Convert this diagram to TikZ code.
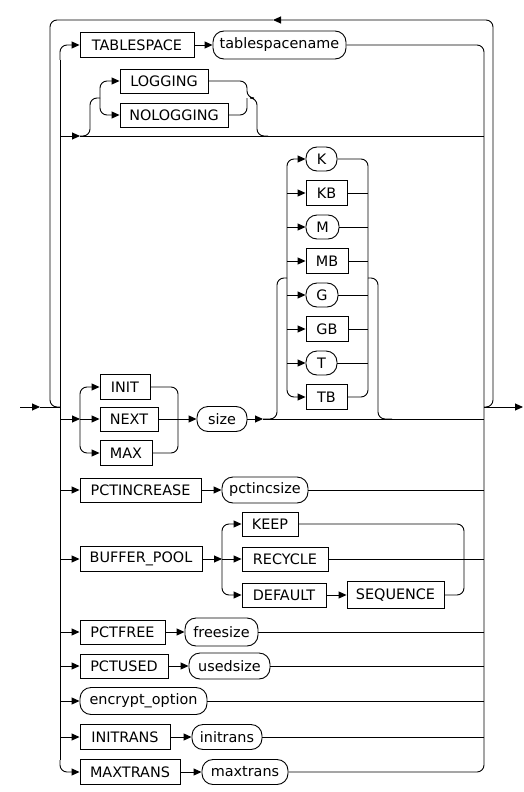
\documentclass[tikz,border=0pt]{standalone}
\usepackage{fontspec}
\setmainfont{DejaVu Sans}
\usetikzlibrary{arrows.meta}
\begin{document}
\begin{tikzpicture}[x=1pt,y=-1pt,line width=0.9pt,
  kw/.style={draw,rectangle,inner sep=0pt,font=\fontsize{14.4}{15}\selectfont,minimum height=24pt},
  tm/.style={draw,rectangle,rounded corners=11pt,inner sep=0pt,font=\fontsize{14.4}{15}\selectfont,minimum height=26pt},
  arr/.style={-{Triangle[length=8pt,width=7pt]}},
  rc/.style={rounded corners=7pt}]
\useasboundingbox (0,0) rectangle (524,792);

% ---------- nodes ----------
\node[kw,minimum width=114pt,minimum height=25pt] (TS) at (137,45) {TABLESPACE};
\node[tm,minimum width=133pt,minimum height=28pt] (TSN) at (279.5,45) {tablespacename};
\node[kw,minimum width=88pt] (LG) at (164,81) {LOGGING};
\node[kw,minimum width=108pt] (NL) at (174,115) {NOLOGGING};

\node[kw,minimum width=50pt,minimum height=25pt] (INIT) at (125,387) {INIT};
\node[kw,minimum width=58pt] (NEXT) at (129,419) {NEXT};
\node[kw,minimum width=52pt,minimum height=25pt] (MAX) at (126,453) {MAX};
\node[tm,minimum width=50pt,minimum height=25pt] (SZ) at (222,419) {size};

\node[tm,minimum width=31pt,minimum height=24pt,rounded corners=11pt] (K) at (321.5,159) {K};
\node[kw,minimum width=41pt,minimum height=25pt] (KB) at (326.5,193) {KB};
\node[tm,minimum width=33pt,minimum height=24pt,rounded corners=11pt] (M) at (322.5,227) {M};
\node[kw,minimum width=42pt,minimum height=25pt] (MB) at (327,261) {MB};
\node[tm,minimum width=32pt,minimum height=24pt,rounded corners=11pt] (G) at (322,295) {G};
\node[kw,minimum width=42pt,minimum height=25pt] (GB) at (327,329) {GB};
\node[tm,minimum width=31pt,minimum height=24pt,rounded corners=11pt] (T) at (321.5,363) {T};
\node[kw,minimum width=41pt,minimum height=25pt] (TB) at (326.5,397) {TB};

\node[kw,minimum width=121pt] (PI) at (140.5,490) {PCTINCREASE};
\node[tm,minimum width=86pt] (PIS) at (265,490) {pctincsize};

\node[kw,minimum width=122pt,minimum height=25pt] (BP) at (141,559) {BUFFER\_POOL};
\node[kw,minimum width=56pt] (KEEP) at (270,524) {KEEP};
\node[kw,minimum width=86pt] (REC) at (285,559) {RECYCLE};
\node[kw,minimum width=84pt] (DEF) at (284,595) {DEFAULT};
\node[kw,minimum width=97pt,minimum height=27pt] (SEQ) at (395.5,595) {SEQUENCE};

\node[kw,minimum width=85pt] (PF) at (122.5,632) {PCTFREE};
\node[tm,minimum width=73pt,minimum height=28pt] (FS) at (221.5,632) {freesize};
\node[kw,minimum width=88pt] (PU) at (124,666) {PCTUSED};
\node[tm,minimum width=81pt] (US) at (229.5,666) {usedsize};
\node[tm,minimum width=127pt,minimum height=27pt] (ENC) at (143.5,701) {encrypt\_option};
\node[kw,minimum width=90pt,minimum height=25pt] (IT) at (125,737) {INITRANS};
\node[tm,minimum width=70pt,minimum height=25pt] (ITS) at (227,737) {initrans};
\node[kw,minimum width=100pt,minimum height=25pt] (MX) at (130,772) {MAXTRANS};
\node[tm,minimum width=86pt,minimum height=25pt] (MXS) at (245,772) {maxtrans};

% ---------- junction coordinates ----------
\coordinate (in0) at (20,407);
\coordinate (in1) at (40,407);
\coordinate (jl) at (60,407);
\coordinate (jr) at (484,407);
\coordinate (out) at (523,407);
\coordinate (loopA) at (273,20);

% ---------- outer loop, entry and exit ----------
\draw[arr] (in0) -- (in1);
\draw (in1) -- (jl);
\draw[arr] (jr) -- (out);
\draw[arr,rc] (jr) -- (493,407) -- (493,20) -- (loopA);
\draw[rc] (loopA) -- (50,20) -- (50,407) -- (jl);

% ---------- main bus ----------
\draw (60,60) -- (60,760);
\draw[arr,rc] (60,60) -- (60,45) -- (TS.west);
\draw[arr] (TS.east) -- (TSN.west);
\draw[rc] (TSN.east) -- (484,45) -- (484,772) -- (MXS.east);
\draw[arr,rc] (60,760) -- (60,772) -- (MX.west);
\draw[arr] (MX.east) -- (MXS.west);

% ---------- LOGGING / NOLOGGING ----------
\draw[arr] (60,136) -- (80,136);
\draw (80,136) -- (484,136);
\draw[rc] (80,136) -- (90,136) -- (90,98) -- (100,98);
\draw[arr,rc] (100,98) -- (100,81) -- (LG.west);
\draw[arr,rc] (100,98) -- (100,115) -- (NL.west);
\draw[rc] (LG.east) -- (247,81) -- (247,98) -- (257,98) -- (257,136) -- (268,136);
\draw[rc] (NL.east) -- (247,115) -- (247,98);

% ---------- INIT / NEXT / MAX size unit ----------
\draw[arr] (60,419) -- (80,419);
\draw[arr,rc] (80,419) -- (80,387) -- (INIT.west);
\draw[arr] (80,419) -- (NEXT.west);
\draw[arr,rc] (80,419) -- (80,453) -- (MAX.west);
\draw[rc] (INIT.east) -- (178,387) -- (178,419);
\draw[rc] (MAX.east) -- (178,453) -- (178,419);
\draw (NEXT.east) -- (178,419);
\draw[arr] (178,419) -- (SZ.west);
\draw[arr] (SZ.east) -- (263,419);
\draw (263,419) -- (484,419);
\draw[rc] (263,419) -- (277,419) -- (277,278) -- (287,278);
\draw[arr,rc] (287,278) -- (287,159) -- (K.west);
\draw[arr,rc] (287,278) -- (287,397) -- (TB.west);
\foreach \n/\y in {KB/193,M/227,MB/261,G/295,GB/329,T/363}
  \draw[arr] (287,\y) -- (\n.west);
\draw[rc] (K.east) -- (368,159) -- (368,278);
\draw[rc] (TB.east) -- (368,397) -- (368,278);
\foreach \n/\y in {KB/193,M/227,MB/261,G/295,GB/329,T/363}
  \draw (\n.east) -- (368,\y);
\draw[rc] (368,278) -- (378,278) -- (378,419) -- (392,419);

% ---------- PCTINCREASE ----------
\draw[arr] (60,490) -- (PI.west);
\draw[arr] (PI.east) -- (PIS.west);
\draw (PIS.east) -- (484,490);

% ---------- BUFFER_POOL ----------
\draw[arr] (60,559) -- (BP.west);
\draw[arr] (BP.east) -- (222,559);
\draw[arr,rc] (222,559) -- (222,524) -- (KEEP.west);
\draw[arr] (222,559) -- (REC.west);
\draw[arr,rc] (222,559) -- (222,595) -- (DEF.west);
\draw[arr] (DEF.east) -- (SEQ.west);
\draw[rc] (KEEP.east) -- (464,524) -- (464,559);
\draw[rc] (SEQ.east) -- (464,595) -- (464,559);
\draw (REC.east) -- (484,559);

% ---------- remaining rows ----------
\draw[arr] (60,632) -- (PF.west);
\draw[arr] (PF.east) -- (FS.west);
\draw (FS.east) -- (484,632);
\draw[arr] (60,666) -- (PU.west);
\draw[arr] (PU.east) -- (US.west);
\draw (US.east) -- (484,666);
\draw[arr] (60,701) -- (ENC.west);
\draw (ENC.east) -- (484,701);
\draw[arr] (60,737) -- (IT.west);
\draw[arr] (IT.east) -- (ITS.west);
\draw (ITS.east) -- (484,737);
\end{tikzpicture}
\end{document}
